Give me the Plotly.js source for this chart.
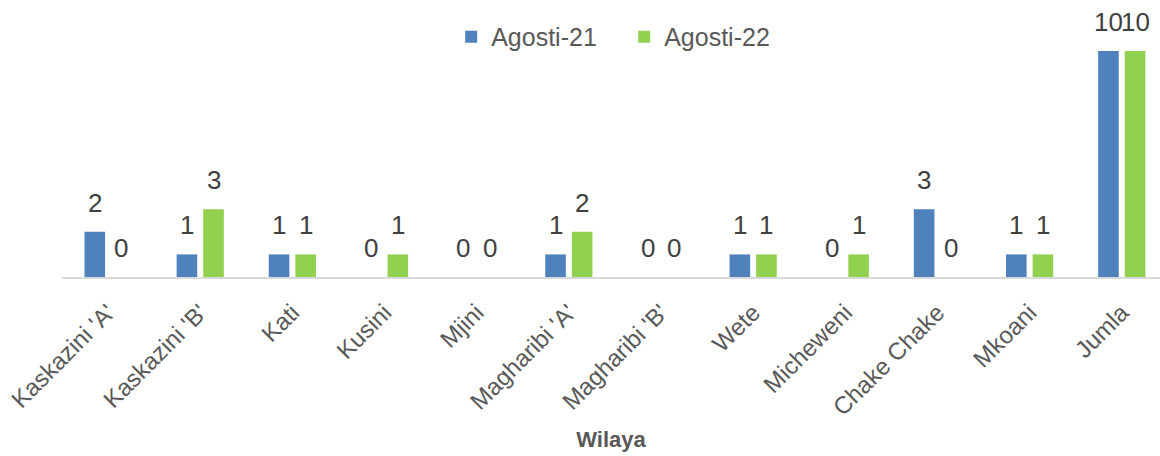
<!DOCTYPE html>
<html>
<head>
<meta charset="utf-8">
<script src="https://cdn.plot.ly/plotly-3.0.1.min.js"></script>
<style>html,body{margin:0;padding:0;background:#fff;}#chart{width:1160px;height:456px;}</style>
</head>
<body>
<div id="chart"></div>
<script>
const categories = ["Kaskazini 'A'", "Kaskazini 'B'", "Kati", "Kusini", "Mjini", "Magharibi 'A'", "Magharibi 'B'", "Wete", "Micheweni", "Chake Chake", "Mkoani", "Jumla"];
const seriesNames = ["Agosti-21", "Agosti-22"];
const agosti21 = [2, 1, 1, 0, 0, 1, 0, 1, 0, 3, 1, 10];
const agosti22 = [0, 3, 1, 1, 0, 2, 0, 1, 1, 0, 1, 10];
const xTitle = "Wilaya";

const FONT = "'Liberation Sans Narrow', 'Arial Narrow', 'Liberation Sans', Arial, sans-serif";
const colors = ["#4F81BD", "#92D050"];
const series = [agosti21, agosti22];
const labelShift = 13.3;

const traces = series.map((vals, k) => ({
  type: 'bar',
  name: seriesNames[k],
  x: categories,
  y: vals,
  marker: {color: colors[k]},
  hoverinfo: 'x+y+name'
}));

const annotations = [];
series.forEach((vals, k) => {
  vals.forEach((v, i) => {
    annotations.push({
      x: categories[i], y: v, xref: 'x', yref: 'y',
      text: String(v), showarrow: false,
      yanchor: 'bottom', xanchor: 'center',
      xshift: k === 0 ? -labelShift : labelShift,
      yshift: 12,
      font: {family: FONT, size: 26, color: '#404040'}
    });
  });
});

const layout = {
  width: 1160, height: 456,
  margin: {l: 62, r: 0, t: 51, b: 179, pad: 0},
  paper_bgcolor: '#fff', plot_bgcolor: '#fff',
  barmode: 'group',
  bargap: 0.4227,
  bargroupgap: 0.2256,
  font: {family: FONT, color: '#595959'},
  showlegend: true,
  legend: {
    orientation: 'h', x: 0.512, xanchor: 'center', y: 1.062, yanchor: 'middle',
    font: {family: FONT, size: 25, color: '#595959'},
    entrywidth: 128, entrywidthmode: 'pixels'
  },
  xaxis: {
    type: 'category',
    range: [-0.5, 11.415],
    showline: true, linecolor: '#D9D9D9', linewidth: 2,
    ticks: '', showgrid: false, zeroline: false,
    tickangle: -45,
    ticklabelstandoff: 10,
    tickfont: {family: FONT, size: 24, color: '#595959'},
    title: {text: xTitle, font: {family: FONT, size: 22, color: '#595959', weight: 'bold'}, standoff: 12}
  },
  yaxis: {
    range: [0, 10],
    visible: false, showgrid: false, zeroline: false
  },
  annotations: annotations
};

Plotly.newPlot('chart', traces, layout, {displayModeBar: false, staticPlot: true});
</script>
</body>
</html>
